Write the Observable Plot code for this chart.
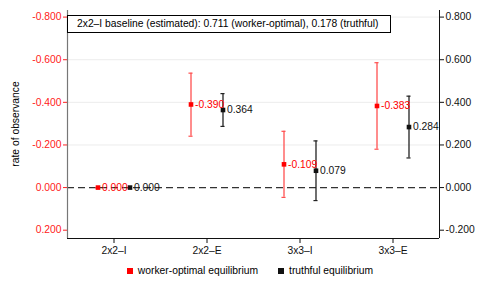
<!DOCTYPE html>
<html><head><meta charset="utf-8">
<script src="https://cdn.jsdelivr.net/npm/d3@7"></script>
<script src="https://cdn.jsdelivr.net/npm/@observablehq/plot@0.6"></script>
<style>
body{margin:0;background:white;font-family:"Liberation Sans",Arial,sans-serif;}
#wrap{position:relative;width:496px;height:297px;overflow:hidden;}
#box{position:absolute;left:67px;top:15px;width:313px;height:16px;border:1px solid #000;background:#fff;font-size:10.3px;line-height:16px;padding-left:9px;box-sizing:content-box;white-space:nowrap;}
#ylab{position:absolute;left:15px;top:124px;transform:translate(-50%,-50%) rotate(-90deg);font-size:10.3px;white-space:nowrap;}
#legend{position:absolute;top:265px;left:0;width:496px;display:flex;justify-content:center;font-size:10.3px;align-items:center;padding-left:4px;box-sizing:border-box;}
.sw{display:inline-block;width:6px;height:6px;margin-right:5px;}
.it{display:flex;align-items:center;margin:0 10px;}
</style></head>
<body><div id="wrap"></div>
<script>
const categories = ["2x2\u2013I", "2x2\u2013E", "3x3\u2013I", "3x3\u2013E"];
const workerValues = [0.000, 0.390, 0.109, 0.383];
const workerLow    = [0.000, 0.241, -0.046, 0.180];
const workerHigh   = [0.000, 0.537, 0.264, 0.586];
const truthfulValues = [0.000, 0.364, 0.079, 0.284];
const truthfulLow    = [0.000, 0.287, -0.061, 0.139];
const truthfulHigh   = [0.000, 0.441, 0.219, 0.429];
const yTicks = [-0.2, 0, 0.2, 0.4, 0.6, 0.8];
const gridTicks = [0.2, 0.4, 0.6, 0.8];
const seriesNames = ["worker-optimal equilibrium", "truthful equilibrium"];
const seriesColors = ["#ff0000", "#111111"];
const titleText = "2x2\u2013I baseline (estimated): 0.711 (worker-optimal), 0.178 (truthful)";

const xDomain = [-0.5, 3.5];
const yDomain = [-0.239, 0.831];
const shift = 0.172, capHalf = 0.022;

const rows = [];
categories.forEach((c, i) => {
  rows.push({s: 0, x: i - shift, v: workerValues[i], lo: workerLow[i], hi: workerHigh[i]});
  rows.push({s: 1, x: i + shift, v: truthfulValues[i], lo: truthfulLow[i], hi: truthfulHigh[i]});
});
const caps = rows.flatMap(r => [{...r, y: r.lo}, {...r, y: r.hi}]);
const col = r => seriesColors[r.s];
const lab = r => r.s === 0 ? (r.v === 0 ? 0 : -r.v).toFixed(3) : r.v.toFixed(3);

const chart = Plot.plot({
  width: 496, height: 297,
  marginLeft: 67, marginRight: 57, marginTop: 10, marginBottom: 59,
  style: {fontFamily: "'Liberation Sans', Arial, sans-serif", fontSize: "10.3px", background: "transparent", color: "black"},
  x: {domain: xDomain, axis: null},
  y: {domain: yDomain, axis: null},
  marks: [
    Plot.ruleY(gridTicks, {stroke: "#ececec", strokeWidth: 1}),
    Plot.ruleY([0], {stroke: "#333", strokeWidth: 1.3, strokeDasharray: "7,4"}),
    Plot.axisY({anchor: "left", ticks: yTicks, tickFormat: d => (d === 0 ? 0 : -d).toFixed(3), color: "#ff2020", tickSize: 4, tickPadding: 2, label: null}),
    Plot.axisY({anchor: "right", ticks: yTicks, tickFormat: d => d.toFixed(3), color: "#111", tickSize: 4, tickPadding: 2, label: null}),
    Plot.axisX({ticks: [0, 1, 2, 3], tickFormat: i => categories[i], tickSize: 5, tickPadding: 3, label: null, color: "#111"}),
    Plot.ruleX([xDomain[0]], {stroke: "#777", strokeWidth: 1.2}),
    Plot.ruleX([xDomain[1]], {stroke: "#111", strokeWidth: 1}),
    Plot.ruleY([yDomain[0]], {stroke: "#111", strokeWidth: 1}),
    Plot.ruleX(rows, {x: "x", y1: "lo", y2: "hi", stroke: r => r.s === 0 ? "#ff5050" : "#222", strokeWidth: 1.3}),
    Plot.ruleY(caps, {y: "y", x1: r => r.x - capHalf, x2: r => r.x + capHalf, stroke: r => r.s === 0 ? "#ff5050" : "#222", strokeWidth: 1.2}),
    Plot.dot(rows, {x: "x", y: "v", symbol: "square", r: 2.6, fill: col, stroke: "none"}),
    Plot.text(rows, {x: "x", y: "v", text: lab, fill: col, textAnchor: "start", dx: 4, fontSize: 10.3})
  ]
});
const wrap = document.getElementById("wrap");
wrap.appendChild(chart);
const box = document.createElement("div"); box.id = "box"; box.textContent = titleText; wrap.appendChild(box);
const yl = document.createElement("div"); yl.id = "ylab"; yl.textContent = "rate of observance"; wrap.appendChild(yl);
const lg = document.createElement("div"); lg.id = "legend";
seriesNames.forEach((n, i) => {
  const it = document.createElement("span"); it.className = "it";
  const sw = document.createElement("span"); sw.className = "sw"; sw.style.background = seriesColors[i];
  it.appendChild(sw); it.appendChild(document.createTextNode(n)); lg.appendChild(it);
});
wrap.appendChild(lg);
</script></body></html>
